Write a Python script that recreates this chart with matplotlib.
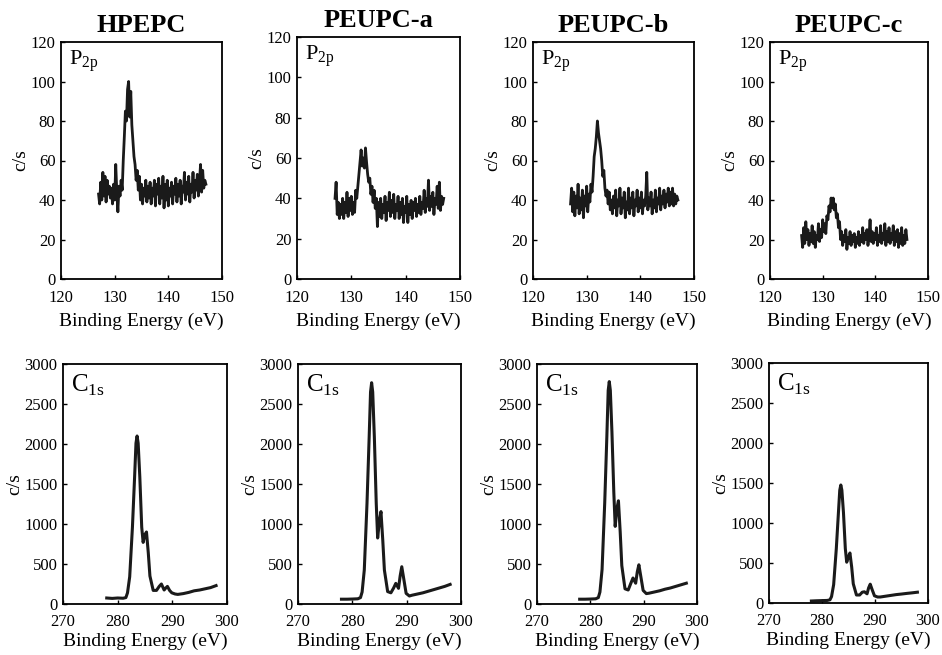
import numpy as np
import matplotlib
matplotlib.use("Agg")
import matplotlib.pyplot as plt

plt.rcParams['font.family'] = ['Liberation Serif', 'DejaVu Serif']
plt.rcParams['mathtext.fontset'] = 'custom'
plt.rcParams['mathtext.rm'] = 'Liberation Serif'

samples = ['HPEPC', 'PEUPC-a', 'PEUPC-b', 'PEUPC-c']

# P2p region, counts per second read at 0.2 eV steps
p_start = [127, 127, 127, 126]
p_end = [147, 147, 147, 146]
p_hpepc = [43, 38, 49, 40, 54, 42, 52, 39, 50, 43, 47, 41, 46, 38, 48, 40, 58, 44, 34, 47,
           42, 50, 45, 60, 72, 85, 80, 96, 100, 82, 95, 78, 70, 62, 58, 50, 55, 45, 52, 40,
           48, 38, 46, 42, 50, 39, 47, 41, 49, 38, 46, 42, 50, 37, 48, 43, 51, 38, 47, 41,
           52, 36, 48, 40, 50, 37, 46, 42, 49, 38, 47, 43, 51, 39, 48, 42, 50, 38, 47, 44,
           54, 40, 49, 43, 52, 39, 48, 44, 54, 41, 50, 45, 53, 42, 49, 58, 44, 55, 46, 50, 48]
p_peupc_a = [40, 48, 32, 38, 30, 37, 32, 40, 30, 38, 33, 43, 31, 40, 34, 41, 32, 38, 33, 44,
             40, 46, 52, 58, 64, 56, 60, 55, 65, 58, 52, 48, 50, 42, 46, 38, 44, 35, 40, 26,
             38, 31, 40, 30, 37, 33, 41, 29, 38, 34, 43, 31, 39, 33, 42, 30, 37, 34, 41, 30,
             38, 32, 40, 28, 36, 33, 41, 28, 37, 32, 39, 30, 38, 34, 40, 31, 37, 33, 41, 32,
             38, 35, 44, 33, 40, 36, 49, 34, 41, 36, 43, 32, 40, 37, 46, 35, 48, 34, 41, 37, 40]
p_peupc_b = [38, 46, 34, 44, 32, 42, 36, 48, 33, 41, 35, 45, 31, 42, 37, 47, 34, 43, 39, 48,
             44, 52, 62, 66, 72, 80, 74, 70, 66, 60, 52, 55, 46, 42, 45, 38, 44, 35, 40, 33,
             42, 36, 45, 32, 40, 37, 46, 33, 41, 36, 44, 31, 39, 35, 46, 33, 41, 36, 44, 32,
             40, 37, 45, 34, 41, 36, 44, 33, 40, 37, 42, 54, 35, 41, 37, 44, 33, 40, 36, 45,
             34, 41, 38, 46, 35, 42, 38, 45, 36, 43, 39, 46, 37, 44, 38, 46, 37, 43, 38, 42, 40]
p_peupc_c = [22, 16, 26, 18, 29, 20, 25, 17, 23, 19, 27, 18, 24, 16, 22, 20, 28, 19, 25, 21,
             30, 24, 28, 23, 32, 30, 37, 34, 41, 36, 41, 35, 38, 31, 33, 26, 29, 20, 24, 17,
             22, 19, 25, 15, 21, 18, 24, 17, 22, 19, 23, 16, 21, 18, 24, 17, 22, 19, 26, 18,
             23, 20, 25, 17, 22, 30, 19, 24, 18, 23, 20, 26, 17, 22, 19, 27, 18, 23, 20, 28,
             17, 24, 19, 26, 18, 23, 20, 27, 17, 24, 19, 25, 16, 23, 18, 26, 17, 22, 18, 25, 20]
p_series = [p_hpepc, p_peupc_a, p_peupc_b, p_peupc_c]

# C1s region
c_energy = [278, 279, 280, 281, 281.5, 281.8, 282.2, 282.7, 283.1, 283.35, 283.55, 283.75,
            284.05, 284.4, 284.66, 285.0, 285.27, 285.6, 285.9, 286.5, 287.1, 287.6, 288.0,
            288.5, 288.8, 289.1, 289.5, 289.9, 290.5, 291, 292, 293, 294, 295, 296, 297, 298]
c_hpepc = [75, 70, 75, 72, 80, 140, 340, 960, 1590, 2010, 2100, 2010, 1590, 960, 770, 870,
           900, 640, 350, 170, 170, 220, 250, 175, 200, 220, 170, 140, 125, 120, 130, 145,
           165, 175, 190, 205, 230]
c_peupc_a = [60, 60, 62, 65, 80, 150, 425, 1260, 2090, 2650, 2766, 2650, 2090, 1260, 825,
             1050, 1155, 800, 425, 155, 140, 200, 258, 196, 350, 466, 300, 133, 100, 110,
             125, 140, 160, 180, 200, 220, 245]
c_peupc_b = [60, 60, 62, 65, 80, 150, 430, 1270, 2100, 2670, 2780, 2670, 2150, 1400, 970,
             1200, 1290, 900, 480, 190, 175, 260, 325, 260, 400, 490, 330, 170, 130, 135,
             150, 165, 185, 200, 220, 240, 260]
c_peupc_c = [25, 28, 30, 32, 40, 80, 230, 680, 1130, 1410, 1475, 1410, 1130, 680, 510, 580,
             625, 450, 240, 100, 100, 135, 140, 115, 190, 235, 160, 90, 75, 75, 85, 95, 105,
             112, 120, 127, 135]
c_series = [c_hpepc, c_peupc_a, c_peupc_b, c_peupc_c]

W, H = 942, 655
fig = plt.figure(figsize=(W / 100, H / 100), dpi=100)

# axes boxes in pixels: left, right, top, bottom
top_boxes = [(61, 222, 42, 279), (297, 460, 37, 279), (533, 694, 42, 279), (770, 928, 42, 279)]
bot_boxes = [(63, 227, 364, 604), (298, 461, 364, 604), (537, 697, 364, 604), (769, 928, 363, 603)]


def make_ax(box, xpad, lpad):
    l, r, t, b = box
    ax = fig.add_axes([l / W, 1 - b / H, (r - l) / W, (b - t) / H])
    for s in ax.spines.values():
        s.set_linewidth(1.3)
    ax.tick_params(direction='in', length=3, width=1, labelsize=12)
    ax.tick_params(axis='x', pad=xpad)
    ax.tick_params(axis='y', pad=4)
    ax.set_xlabel('Binding Energy (eV)', fontsize=14, labelpad=lpad)
    ax.set_ylabel('c/s', fontsize=14, labelpad=1)
    return ax


for i in range(4):
    ax = make_ax(top_boxes[i], 8, 5)
    x = np.linspace(p_start[i], p_end[i], len(p_series[i]))
    ax.plot(x, p_series[i], color='#1a1a1a', lw=2)
    ax.set_xlim(120, 150)
    ax.set_ylim(0, 120)
    ax.set_xticks([120, 130, 140, 150])
    ax.set_yticks(range(0, 121, 20))
    ax.text(0.05, 0.97, r'P$_{\mathrm{2p}}$', transform=ax.transAxes, fontsize=16,
            va='top', ha='left')
    ax.set_title(samples[i], fontsize=19, fontweight='bold', pad=7)

for i in range(4):
    ax = make_ax(bot_boxes[i], 7, 2)
    ax.plot(c_energy, c_series[i], color='#1a1a1a', lw=2.2)
    ax.set_xlim(270, 300)
    ax.set_ylim(0, 3000)
    ax.set_xticks([270, 280, 290, 300])
    ax.set_yticks(range(0, 3001, 500))
    ax.text(0.05, 0.965, r'C$_{\mathrm{1s}}$', transform=ax.transAxes, fontsize=18,
            va='top', ha='left')

fig.savefig('out.png', dpi=100)
